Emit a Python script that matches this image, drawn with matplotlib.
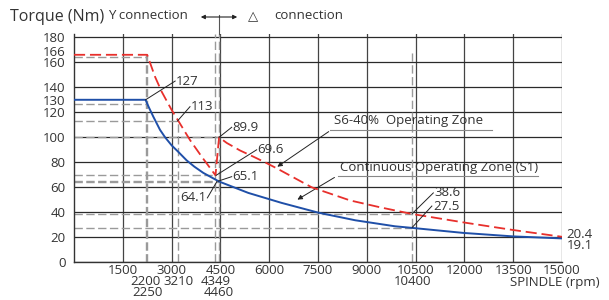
import matplotlib
matplotlib.use('Agg')
import matplotlib.pyplot as plt

plt.rcParams['font.family'] = ['Open Sans', 'DejaVu Sans']
plt.rcParams['lines.scale_dashes'] = False

# continuous operating zone S1 (blue)
s1_rpm = [0, 2200, 2300, 2438, 2643, 2800, 3003, 3200, 3464, 3700, 3976, 4460, 5359, 6384, 7511, 8648, 9868, 10400, 11967, 13505, 15000]
s1_nm = [130, 130, 124, 116.5, 106, 100, 93.5, 88.5, 81.5, 76.5, 71.5, 64.6, 55.5, 47.5, 39.7, 33.6, 28.8, 27.5, 23.5, 20.7, 19.1]

# S6-40% operating zone (red), Y connection then delta connection
s6_rpm = [0, 2250, 2490, 2695, 3003, 3210, 3566, 3925, 4349, 4460, 4694, 5100, 5513, 5870, 6230, 7306, 8485, 9407, 10400, 12071, 13505, 15000]
s6_nm = [166, 166, 148.5, 136.5, 121.8, 113, 97.8, 84.5, 69.6, 100, 95.5, 89.5, 84.5, 80, 75.2, 60, 49.5, 44, 38.6, 31.5, 25.8, 20.4]

x_major = [1500, 3000, 4500, 6000, 7500, 9000, 10500, 12000, 13500, 15000]
y_major = [0, 20, 40, 60, 80, 100, 120, 140, 160, 180]

# reference lines (value, extent)
h_refs = [(164, 2250), (127, 2200), (113, 3210), (100, 4460), (69.6, 4349),
          (65.1, 4460), (64.1, 4460), (38.6, 10400), (27.5, 10400)]
v_refs = [(2200, 166), (2250, 166), (3210, 113), (4349, 183), (4460, 183), (10400, 170)]

# extra x labels: (rpm, row)
x_extra = [(2200, 1), (3210, 1), (4349, 1), (10400, 1), (2250, 2), (4460, 2)]

txt = '#333333'
fs = 9.5
fig = plt.figure(figsize=(6.09, 3.0), dpi=100)
ax = fig.add_axes([0.1215, 0.1257, 0.8013, 0.7625])
ax.set_xlim(0, 15000)
ax.set_ylim(0, 183)

for s in ['top', 'right']:
    ax.spines[s].set_visible(False)
for s in ['left', 'bottom']:
    ax.spines[s].set_color('#333333')
    ax.spines[s].set_linewidth(1.0)

ax.set_xticks(x_major)
ax.set_yticks(y_major)
ax.set_yticks([130], labels=['130'], minor=True)
ax.tick_params(which='both', length=0, labelsize=fs, labelcolor=txt)
ax.tick_params(axis='y', which='both', pad=6)
ax.tick_params(axis='x', pad=1.5)
ax.grid(which='major', axis='y', color='#2a2a2a', lw=0.9)
ax.grid(which='major', axis='x', color='#444444', lw=0.9)
ax.set_axisbelow(True)

ax.annotate('166', xy=(0, 166), xytext=(-6, 2.0), textcoords='offset points',
            ha='right', va='center', fontsize=fs, color=txt, annotation_clip=False)

gray = '#9a9a9a'
for y, xe in h_refs:
    ax.plot([0, xe], [y, y], color=gray, lw=1.0, dashes=(6, 2.5), zorder=2)
for x, ye in v_refs:
    ax.plot([x, x], [0, ye], color=gray, lw=1.0, dashes=(6, 2.5), zorder=2)

ax.plot(s1_rpm, s1_nm, color='#1f4fa8', lw=1.4, zorder=4)
ax.plot(s6_rpm, s6_nm, color='#e8302c', lw=1.3, dashes=(8, 3.5), zorder=4)

# value labels with leader lines
labels = [('127', (2200, 130), (3110, 145), 'left'),
          ('113', (3180, 113), (3566, 124.5), 'left'),
          ('89.9', (4460, 100), (4847, 108), 'left'),
          ('69.6', (4370, 69.6), (5615, 90), 'left'),
          ('65.1', (4440, 65), (4847, 68.5), 'left'),
          ('64.1', (4390, 64.5), (4100, 51.5), 'right'),
          ('38.6', (10400, 39), (11045, 55.5), 'left'),
          ('27.5', (10400, 28), (11000, 45), 'left')]
for t, p, q, ha in labels:
    ax.plot([p[0], q[0]], [p[1], q[1]], color='#222222', lw=0.7, zorder=5)
    ax.text(q[0] + (30 if ha == 'left' else -30), q[1], t, ha=ha, va='center',
            fontsize=fs, color=txt, zorder=6)

ax.text(15140, 22.0, '20.4', ha='left', va='center', fontsize=fs, color=txt, clip_on=False)
ax.text(15140, 13.3, '19.1', ha='left', va='center', fontsize=fs, color=txt, clip_on=False)

# zone labels
ax.text(7980, 113.5, 'S6-40%  Operating Zone', ha='left', va='center', fontsize=fs, color=txt)
ax.plot([7870, 12840], [105.8, 105.8], color='#888888', lw=0.8)
ax.annotate('', xy=(6180, 75.2), xytext=(7900, 105.8),
            arrowprops=dict(arrowstyle='-|>', color='#222222', lw=0.7, mutation_scale=7))
ax.text(8180, 75.5, 'Continuous Operating Zone (S1)', ha='left', va='center', fontsize=fs, color=txt)
ax.plot([8115, 14265], [69, 69], color='#888888', lw=0.8)
ax.annotate('', xy=(6794, 49), xytext=(8080, 69),
            arrowprops=dict(arrowstyle='-|>', color='#222222', lw=0.7, mutation_scale=7))

# extra x tick labels
for x, row in x_extra:
    ax.annotate(str(x), xy=(x, 0), xycoords=('data', 'axes fraction'),
                xytext=(0, -6 - 7.9 * row), textcoords='offset points',
                ha='center', va='center', fontsize=fs, color=txt, annotation_clip=False)

fig.text(600 / 609, 1 - 282.7 / 300, 'SPINDLE (rpm)', ha='right', va='center', fontsize=fs, color=txt)

# header
hy = 1 - 17 / 300
fig.text(10 / 609, hy, 'Torque (Nm)', ha='left', va='center', fontsize=11.5, color=txt)
fig.text(108 / 609, hy + 0.005, 'Y connection', ha='left', va='center', fontsize=fs, color=txt)
ax.annotate('', xy=(240 / 609, hy), xytext=(198 / 609, hy), xycoords='figure fraction',
            arrowprops=dict(arrowstyle='<|-|>', color='#222222', lw=0.8, mutation_scale=6))
fig.text(248 / 609, hy, '\u25b3', ha='left', va='center', fontsize=fs, color=txt)
fig.text(274 / 609, hy + 0.005, 'connection', ha='left', va='center', fontsize=fs, color=txt)
ax.plot([4460, 4460], [183, 197.8], color='#555555', lw=0.8, clip_on=False)

fig.savefig('out.png', dpi=100)
